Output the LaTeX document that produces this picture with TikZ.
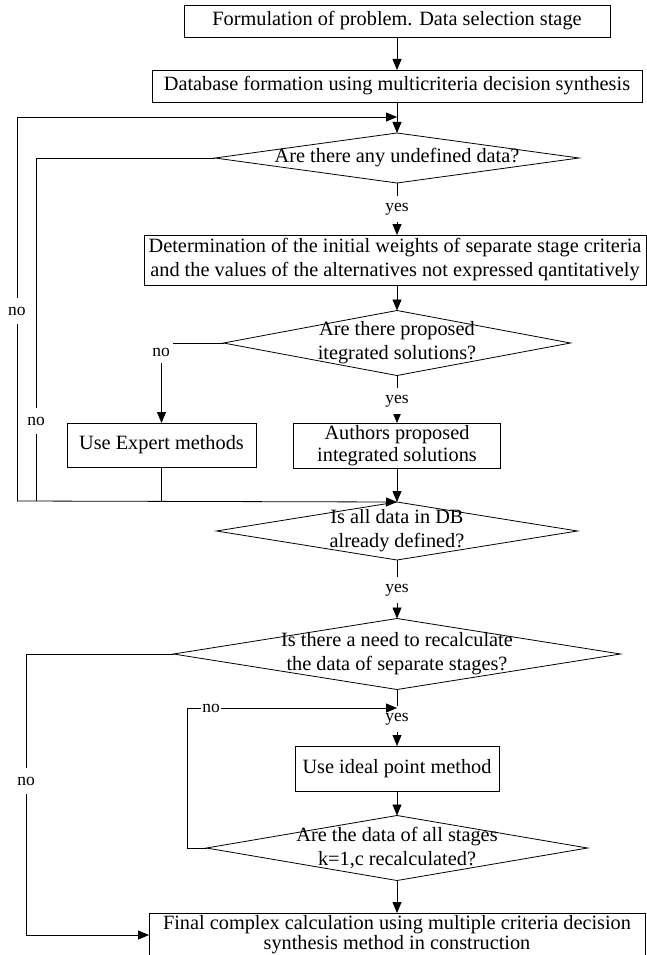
\documentclass[tikz,border=0pt]{standalone}
\usepackage{fontspec}
\setmainfont{Liberation Serif}
\usetikzlibrary{shapes.geometric,arrows.meta}
\begin{document}
\begin{tikzpicture}[x=1pt,y=-1pt,
  every node/.style={font=\fontsize{20.3}{24}\selectfont},
  box/.style={draw, rectangle, inner sep=0pt, outer sep=0pt, align=center, line width=0.8pt},
  dia/.style={draw, diamond, inner sep=0pt, outer sep=0pt, line width=0.8pt},
  txt/.style={align=center, inner sep=0pt},
  lbl/.style={fill=white, inner sep=1.5pt, minimum height=26pt, font=\fontsize{17.5}{20}\selectfont},
  arr/.style={line width=0.8pt, -{Triangle[length=11pt,width=9pt]}},
  ln/.style={line width=0.8pt}]
\useasboundingbox (0,0) rectangle (647,955);
\clip (0,0) rectangle (647,955);

% shapes
\node[box, minimum width=426pt, minimum height=32pt] (b1) at (397,21) {Formulation of problem. Data selection stage};
\node[box, minimum width=490pt, minimum height=32pt] (b2) at (397,86) {Database formation using multicriteria decision synthesis};
\node[dia, minimum width=364pt, minimum height=50pt] (d1) at (397,158) {};
\node[txt] (t1) at (d1) {Are there any undefined data?};
\node[box, minimum width=502pt, minimum height=50pt] (b3) at (395,260) {Determination of the initial weights of separate stage criteria\\and the values of the alternatives not expressed qantitatively};
\node[dia, minimum width=347pt, minimum height=65pt] (d2) at (397,343) {};
\node[txt] (t2) at (d2) {Are there proposed\\itegrated solutions?};
\node[box, minimum width=189pt, minimum height=44pt] (ex) at (161.5,445) {Use Expert methods};
\node[box, minimum width=207pt, minimum height=45pt, font=\fontsize{20.3}{22}\selectfont] (au) at (397,445.5) {Authors proposed\\integrated solutions};
\node[dia, minimum width=361pt, minimum height=58pt] (d3) at (397,531) {};
\node[txt] (t3) at (d3) {Is all data in DB\\already defined?};
\node[dia, minimum width=447pt, minimum height=71pt] (d4) at (397,654) {};
\node[txt] (t4) at (d4) {Is there a need to recalculate\\the data of separate stages?};
\node[box, minimum width=204pt, minimum height=45pt] (ip) at (397,768.5) {Use ideal point method};
\node[dia, minimum width=381pt, minimum height=65pt] (d5) at (397,848) {};
\node[txt] (t5) at (d5) {Are the data of all stages\\k=1,c recalculated?};
\node[box, minimum width=496pt, minimum height=44pt, font=\fontsize{20.3}{20}\selectfont] (fin) at (397,935) {Final complex calculation using multiple criteria decision\\synthesis method in construction};

% helper coordinates
\coordinate (oL) at (17,501);
\coordinate (oT) at (17,117);
\coordinate (aT) at (397,117);
\coordinate (iL) at (36,501);
\coordinate (c4) at (26,935);
\coordinate (c5) at (187,708);
\coordinate (lp) at (397,708);

% connectors
\draw[arr] (b1.south) -- (b2.north);
\draw[arr] (b2.south) -- (d1.north);
\draw[arr] (oL) -- (oT) -- (aT);
\draw[ln] (d1.west) -| (iL);
\draw[ln] (ex.south) -- (ex.south |- oL);
\draw[arr] (oL) -- (d3.north);
\draw[arr] (d1.south) -- (d1.south |- b3.north);
\draw[arr] (b3.south -| d2.north) -- (d2.north);
\draw[arr] (d2.west) -| (ex.north);
\draw[arr] (d2.south) -- (au.north);
\draw[arr] (au.south) -- (d3.north);
\draw[arr] (d3.south) -- (d4.north);
\draw[arr] (d4.west) -| (c4) -- (fin.west);
\draw[arr] (d4.south) -- (ip.north);
\draw[arr] (ip.south) -- (d5.north);
\draw[arr] (d5.south) -- (fin.north);

% labels
\node[lbl] (y1) at (397,209) {yes};
\node[lbl] (y2) at (397,401) {yes};
\node[lbl] (y3) at (397,590) {yes};
\node[lbl] (y4) at (397,719) {yes};
\node[lbl] (n1) at (17,311) {no};
\node[lbl] (n2) at (36,421) {no};
\node[lbl, minimum width=24pt, minimum height=22pt] (n3) at (161,352) {no};
\node[lbl] (n4) at (26,781) {no};

\draw[arr] (d5.west) -| (c5) -- (lp);
\node[lbl, minimum height=14pt] (n5) at (211,708) {no};
\end{tikzpicture}
\end{document}
